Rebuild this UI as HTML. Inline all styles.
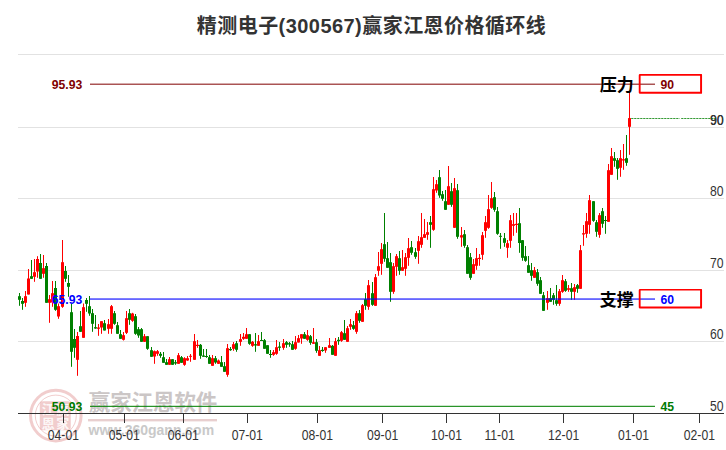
<!DOCTYPE html>
<html><head><meta charset="utf-8"><title>chart</title>
<style>
html,body{margin:0;padding:0;background:#fff;}
body{width:726px;height:450px;overflow:hidden;font-family:"Liberation Sans",sans-serif;}
svg{display:block;}
text{font-family:"Liberation Sans",sans-serif;}
</style></head><body>
<svg width="726" height="450" viewBox="0 0 726 450">
<rect x="0" y="0" width="726" height="450" fill="#ffffff"/>
<g shape-rendering="crispEdges" fill="#e2e2e2">
<rect x="18" y="54" width="706" height="1"/>
<rect x="18" y="127" width="706" height="1"/>
<rect x="18" y="198" width="706" height="1"/>
<rect x="18" y="270" width="706" height="1"/>
<rect x="18" y="341" width="706" height="1"/>
</g>
<g>
<circle cx="55.8" cy="415.6" r="25.3" fill="none" stroke="rgba(205,70,70,0.27)" stroke-width="3"/>
<circle cx="55.8" cy="415.6" r="20.5" fill="none" stroke="rgba(205,70,70,0.27)" stroke-width="1"/>
<rect x="39.8" y="401.2" width="31" height="29" rx="3" fill="rgba(205,70,70,0.27)"/>
<text x="41.8 56.2" y="414.3" font-size="13" font-weight="bold" fill="#ffffff" fill-opacity="0.85" style="font-family:'Liberation Sans','Noto Sans CJK SC',sans-serif;">江赢</text>
<text x="41.8 56.2" y="428" font-size="13" font-weight="bold" fill="#ffffff" fill-opacity="0.85" style="font-family:'Liberation Sans','Noto Sans CJK SC',sans-serif;">恩家</text>
<text x="88.8" y="410.3" font-size="21.5" font-weight="bold" fill="#cbc6c6" textLength="128.5" lengthAdjust="spacing" style="font-family:'Liberation Sans','Noto Sans CJK SC',sans-serif;">赢家江恩软件</text>
<rect x="88" y="419" width="129" height="2.4" fill="#e8cfcf"/>
<text x="88.6" y="434.5" font-size="14" font-weight="bold" fill="#c9c9c9">www.360gann.com</text>
</g>
<text x="371.3" y="33.3" font-size="20" font-weight="bold" fill="#333333" text-anchor="middle" textLength="349" lengthAdjust="spacing" style="font-family:'Liberation Sans','Noto Sans CJK SC',sans-serif;">精测电子(300567)赢家江恩价格循环线</text>
<g>
<rect x="19" y="293" width="1" height="12.8" fill="#008000"/><rect x="18" y="296.2" width="3" height="3.6" fill="#008000"/>
<rect x="22" y="298" width="1" height="11.8" fill="#008000"/><rect x="21" y="301" width="3" height="2.8" fill="#008000"/>
<rect x="25" y="291" width="1" height="15.8" fill="#ff0000"/><rect x="24" y="296.2" width="3" height="6.6" fill="#ff0000"/>
<rect x="28" y="269" width="1" height="25.5" fill="#ff0000"/><rect x="27" y="278.5" width="3" height="16" fill="#ff0000"/>
<rect x="31" y="260" width="1" height="18.8" fill="#008000"/><rect x="30" y="276.2" width="3" height="2.6" fill="#008000"/>
<rect x="34" y="259" width="1" height="22.8" fill="#ff0000"/><rect x="33" y="272.2" width="3" height="4.6" fill="#ff0000"/>
<rect x="37" y="256.2" width="1" height="21.6" fill="#ff0000"/><rect x="36" y="259" width="3" height="12.5" fill="#ff0000"/>
<rect x="40" y="254" width="1" height="24.8" fill="#008000"/><rect x="39" y="263" width="3" height="15.8" fill="#008000"/>
<rect x="43" y="255" width="1" height="22.8" fill="#ff0000"/><rect x="42" y="268.2" width="3" height="5.6" fill="#ff0000"/>
<rect x="46" y="263" width="1" height="39.8" fill="#008000"/><rect x="45" y="266" width="3" height="36.8" fill="#008000"/>
<rect x="49" y="295" width="1" height="27.8" fill="#ff0000"/><rect x="48" y="299.2" width="3" height="3.6" fill="#ff0000"/>
<rect x="52" y="281" width="1" height="25.8" fill="#ff0000"/><rect x="51" y="293.2" width="3" height="9.3" fill="#ff0000"/>
<rect x="55" y="281" width="1" height="29.8" fill="#008000"/><rect x="54" y="288" width="3" height="21.8" fill="#008000"/>
<rect x="58" y="303.5" width="1" height="15.3" fill="#ff0000"/><rect x="57" y="306.2" width="3" height="10.3" fill="#ff0000"/>
<rect x="62" y="240" width="1" height="67.8" fill="#ff0000"/><rect x="61" y="262.2" width="3" height="44.6" fill="#ff0000"/>
<rect x="65" y="266" width="1" height="15.8" fill="#008000"/><rect x="64" y="271" width="3" height="7.8" fill="#008000"/>
<rect x="68" y="275" width="1" height="21.8" fill="#008000"/><rect x="67" y="283" width="3" height="3.8" fill="#008000"/>
<rect x="71" y="303.5" width="1" height="63.3" fill="#008000"/><rect x="70" y="312.2" width="3" height="39.6" fill="#008000"/>
<rect x="74" y="329" width="1" height="28.8" fill="#008000"/><rect x="73" y="339" width="3" height="8.8" fill="#008000"/>
<rect x="77" y="332" width="1" height="43.8" fill="#ff0000"/><rect x="76" y="336" width="3" height="23.8" fill="#ff0000"/>
<rect x="80" y="311" width="1" height="20.8" fill="#008000"/><rect x="79" y="326.2" width="3" height="5.6" fill="#008000"/>
<rect x="83" y="303.5" width="1" height="34.3" fill="#ff0000"/><rect x="82" y="307.2" width="3" height="30.6" fill="#ff0000"/>
<rect x="86" y="298" width="1" height="13.8" fill="#008000"/><rect x="85" y="300" width="3" height="3.8" fill="#008000"/>
<rect x="89" y="296" width="1" height="19.8" fill="#008000"/><rect x="88" y="306.2" width="3" height="7.3" fill="#008000"/>
<rect x="92" y="309" width="1" height="22.8" fill="#008000"/><rect x="91" y="313.2" width="3" height="10.6" fill="#008000"/>
<rect x="95" y="315" width="1" height="13.8" fill="#008000"/><rect x="94" y="327.2" width="3" height="1.3" fill="#008000"/>
<rect x="98" y="324" width="1" height="11.8" fill="#ff0000"/><rect x="97" y="327.5" width="3" height="1.3" fill="#ff0000"/>
<rect x="101" y="321.2" width="1" height="12.6" fill="#ff0000"/><rect x="100" y="321.2" width="3" height="6.3" fill="#ff0000"/>
<rect x="104" y="320" width="1" height="10.5" fill="#008000"/><rect x="103" y="323.2" width="3" height="7.3" fill="#008000"/>
<rect x="108" y="319" width="1" height="14.8" fill="#ff0000"/><rect x="107" y="324.2" width="3" height="4.6" fill="#ff0000"/>
<rect x="111" y="305" width="1" height="28.8" fill="#ff0000"/><rect x="110" y="306.2" width="3" height="22.6" fill="#ff0000"/>
<rect x="114" y="311" width="1" height="13.8" fill="#008000"/><rect x="113" y="313.2" width="3" height="10.6" fill="#008000"/>
<rect x="117" y="322" width="1" height="11.8" fill="#008000"/><rect x="116" y="325.2" width="3" height="8.6" fill="#008000"/>
<rect x="120" y="330" width="1" height="8.8" fill="#008000"/><rect x="119" y="334.2" width="3" height="4.6" fill="#008000"/>
<rect x="123" y="332" width="1" height="8.5" fill="#ff0000"/><rect x="122" y="335.2" width="3" height="4.6" fill="#ff0000"/>
<rect x="126" y="311" width="1" height="23" fill="#ff0000"/><rect x="125" y="318.2" width="3" height="14.6" fill="#ff0000"/>
<rect x="129" y="309" width="1" height="15.8" fill="#008000"/><rect x="128" y="313.2" width="3" height="6.6" fill="#008000"/>
<rect x="132" y="312.8" width="1" height="9" fill="#ff0000"/><rect x="131" y="313.5" width="3" height="7.3" fill="#ff0000"/>
<rect x="135" y="314" width="1" height="20.8" fill="#008000"/><rect x="134" y="316.2" width="3" height="17.6" fill="#008000"/>
<rect x="138" y="327" width="1" height="10.8" fill="#008000"/><rect x="137" y="329.2" width="3" height="6.3" fill="#008000"/>
<rect x="141" y="328" width="1" height="13.8" fill="#008000"/><rect x="140" y="329.2" width="3" height="12.6" fill="#008000"/>
<rect x="144" y="334" width="1" height="7.8" fill="#ff0000"/><rect x="143" y="336.2" width="3" height="5.6" fill="#ff0000"/>
<rect x="147" y="336.2" width="1" height="13.6" fill="#008000"/><rect x="146" y="336.2" width="3" height="12.6" fill="#008000"/>
<rect x="151" y="347" width="1" height="9.8" fill="#008000"/><rect x="150" y="350.2" width="3" height="6.6" fill="#008000"/>
<rect x="154" y="350.5" width="1" height="13.3" fill="#ff0000"/><rect x="153" y="351.2" width="3" height="5.3" fill="#ff0000"/>
<rect x="157" y="350" width="1" height="5.8" fill="#ff0000"/><rect x="156" y="351.2" width="3" height="2.6" fill="#ff0000"/>
<rect x="160" y="352" width="1" height="5.8" fill="#008000"/><rect x="159" y="353.8" width="3" height="2" fill="#008000"/>
<rect x="163" y="352" width="1" height="10.8" fill="#008000"/><rect x="162" y="357.2" width="3" height="5.6" fill="#008000"/>
<rect x="166" y="359" width="1" height="5.8" fill="#008000"/><rect x="165" y="362.2" width="3" height="2.6" fill="#008000"/>
<rect x="169" y="357" width="1" height="7.8" fill="#ff0000"/><rect x="168" y="359.2" width="3" height="5.6" fill="#ff0000"/>
<rect x="172" y="359" width="1" height="5.8" fill="#008000"/><rect x="171" y="359.2" width="3" height="5.6" fill="#008000"/>
<rect x="175" y="360" width="1" height="4.8" fill="#008000"/><rect x="174" y="362.2" width="3" height="1.3" fill="#008000"/>
<rect x="178" y="353" width="1" height="10.8" fill="#ff0000"/><rect x="177" y="355.2" width="3" height="8.6" fill="#ff0000"/>
<rect x="181" y="356" width="1" height="6.8" fill="#008000"/><rect x="180" y="357.2" width="3" height="5.6" fill="#008000"/>
<rect x="184" y="357.2" width="1" height="8.6" fill="#ff0000"/><rect x="183" y="358.2" width="3" height="6.6" fill="#ff0000"/>
<rect x="187" y="356" width="1" height="4.8" fill="#ff0000"/><rect x="186" y="358.2" width="3" height="2.3" fill="#ff0000"/>
<rect x="190" y="354" width="1" height="7.8" fill="#ff0000"/><rect x="189" y="355.8" width="3" height="1" fill="#ff0000"/>
<rect x="194" y="334" width="1" height="25.8" fill="#ff0000"/><rect x="193" y="341.2" width="3" height="18.6" fill="#ff0000"/>
<rect x="197" y="340" width="1" height="7.8" fill="#ff0000"/><rect x="196" y="344.8" width="3" height="1.2" fill="#ff0000"/>
<rect x="200" y="344" width="1" height="14.8" fill="#008000"/><rect x="199" y="344.8" width="3" height="11" fill="#008000"/>
<rect x="203" y="349" width="1" height="7.8" fill="#008000"/><rect x="202" y="355.5" width="3" height="1.3" fill="#008000"/>
<rect x="206" y="349" width="1" height="8.8" fill="#008000"/><rect x="205" y="356" width="3" height="1" fill="#008000"/>
<rect x="209" y="355" width="1" height="8.8" fill="#008000"/><rect x="208" y="357.2" width="3" height="6.6" fill="#008000"/>
<rect x="212" y="355" width="1" height="10.8" fill="#ff0000"/><rect x="211" y="358.2" width="3" height="7.6" fill="#ff0000"/>
<rect x="215" y="356" width="1" height="7.8" fill="#008000"/><rect x="214" y="358.2" width="3" height="4.3" fill="#008000"/>
<rect x="218" y="359.5" width="1" height="4.5" fill="#ff0000"/><rect x="217" y="360.5" width="3" height="3.3" fill="#ff0000"/>
<rect x="221" y="356" width="1" height="10.8" fill="#008000"/><rect x="220" y="362.2" width="3" height="4.6" fill="#008000"/>
<rect x="224" y="362" width="1" height="9.8" fill="#008000"/><rect x="223" y="366.2" width="3" height="5.6" fill="#008000"/>
<rect x="227" y="344" width="1" height="32.8" fill="#ff0000"/><rect x="226" y="348.2" width="3" height="26.6" fill="#ff0000"/>
<rect x="230" y="347" width="1" height="3.8" fill="#008000"/><rect x="229" y="349" width="3" height="1.2" fill="#008000"/>
<rect x="233" y="342" width="1" height="8.8" fill="#ff0000"/><rect x="232" y="344.2" width="3" height="4.6" fill="#ff0000"/>
<rect x="236" y="341" width="1" height="10.8" fill="#008000"/><rect x="235" y="343.2" width="3" height="6.6" fill="#008000"/>
<rect x="240" y="334" width="1" height="11.8" fill="#ff0000"/><rect x="239" y="339.2" width="3" height="2.6" fill="#ff0000"/>
<rect x="243" y="333" width="1" height="6.8" fill="#ff0000"/><rect x="242" y="336.8" width="3" height="2" fill="#ff0000"/>
<rect x="246" y="328" width="1" height="10.8" fill="#ff0000"/><rect x="245" y="334.2" width="3" height="4.6" fill="#ff0000"/>
<rect x="249" y="334.2" width="1" height="10.6" fill="#008000"/><rect x="248" y="334.2" width="3" height="9.6" fill="#008000"/>
<rect x="252" y="341" width="1" height="5.8" fill="#ff0000"/><rect x="251" y="341.8" width="3" height="4" fill="#ff0000"/>
<rect x="255" y="333" width="1" height="18.8" fill="#008000"/><rect x="254" y="344.2" width="3" height="1.3" fill="#008000"/>
<rect x="258" y="335" width="1" height="10.8" fill="#ff0000"/><rect x="257" y="341.2" width="3" height="4.6" fill="#ff0000"/>
<rect x="261" y="332" width="1" height="9" fill="#008000"/><rect x="260" y="340" width="3" height="1" fill="#008000"/>
<rect x="264" y="339" width="1" height="9.8" fill="#008000"/><rect x="263" y="340.2" width="3" height="8.6" fill="#008000"/>
<rect x="267" y="345.2" width="1" height="8.6" fill="#008000"/><rect x="266" y="345.2" width="3" height="8.6" fill="#008000"/>
<rect x="270" y="350" width="1" height="7.8" fill="#008000"/><rect x="269" y="354" width="3" height="1" fill="#008000"/>
<rect x="273" y="350" width="1" height="5.8" fill="#ff0000"/><rect x="272" y="352.2" width="3" height="2.6" fill="#ff0000"/>
<rect x="276" y="340" width="1" height="14.8" fill="#ff0000"/><rect x="275" y="347.2" width="3" height="6.6" fill="#ff0000"/>
<rect x="279" y="342" width="1" height="8.8" fill="#008000"/><rect x="278" y="346.5" width="3" height="1.3" fill="#008000"/>
<rect x="283" y="339" width="1" height="10.8" fill="#ff0000"/><rect x="282" y="343.2" width="3" height="4.6" fill="#ff0000"/>
<rect x="286" y="341" width="1" height="6.8" fill="#008000"/><rect x="285" y="342.2" width="3" height="2.6" fill="#008000"/>
<rect x="289" y="342" width="1" height="4.8" fill="#008000"/><rect x="288" y="343.2" width="3" height="1.3" fill="#008000"/>
<rect x="292" y="341" width="1" height="8.8" fill="#008000"/><rect x="291" y="344.2" width="3" height="5.6" fill="#008000"/>
<rect x="295" y="336" width="1" height="13.8" fill="#ff0000"/><rect x="294" y="342.2" width="3" height="6.6" fill="#ff0000"/>
<rect x="298" y="335" width="1" height="7.5" fill="#ff0000"/><rect x="297" y="338.2" width="3" height="4.3" fill="#ff0000"/>
<rect x="301" y="334.2" width="1" height="9.6" fill="#ff0000"/><rect x="300" y="334.2" width="3" height="4.3" fill="#ff0000"/>
<rect x="304" y="332" width="1" height="6.8" fill="#008000"/><rect x="303" y="334.2" width="3" height="4.6" fill="#008000"/>
<rect x="307" y="330" width="1" height="10.8" fill="#ff0000"/><rect x="306" y="335.2" width="3" height="4.6" fill="#ff0000"/>
<rect x="310" y="335" width="1" height="9.8" fill="#008000"/><rect x="309" y="336.2" width="3" height="6.6" fill="#008000"/>
<rect x="313" y="328" width="1" height="15.8" fill="#ff0000"/><rect x="312" y="342.2" width="3" height="1.6" fill="#ff0000"/>
<rect x="316" y="339" width="1" height="13.8" fill="#008000"/><rect x="315" y="342.2" width="3" height="8.6" fill="#008000"/>
<rect x="319" y="346" width="1" height="9.8" fill="#ff0000"/><rect x="318" y="350.2" width="3" height="5.6" fill="#ff0000"/>
<rect x="322" y="347" width="1" height="4.8" fill="#008000"/><rect x="321" y="349.8" width="3" height="1.2" fill="#008000"/>
<rect x="325" y="347.2" width="1" height="5.6" fill="#ff0000"/><rect x="324" y="347.2" width="3" height="3.3" fill="#ff0000"/>
<rect x="329" y="338" width="1" height="9.8" fill="#ff0000"/><rect x="328" y="345.2" width="3" height="2.6" fill="#ff0000"/>
<rect x="332" y="345" width="1" height="9.8" fill="#008000"/><rect x="331" y="345.8" width="3" height="9" fill="#008000"/>
<rect x="335" y="338" width="1" height="17.8" fill="#ff0000"/><rect x="334" y="341.2" width="3" height="14.6" fill="#ff0000"/>
<rect x="338" y="337" width="1" height="7.8" fill="#008000"/><rect x="337" y="339.8" width="3" height="1.4" fill="#008000"/>
<rect x="341" y="331" width="1" height="10.8" fill="#ff0000"/><rect x="340" y="332.2" width="3" height="8.6" fill="#ff0000"/>
<rect x="344" y="320" width="1" height="19.8" fill="#008000"/><rect x="343" y="333.2" width="3" height="6.6" fill="#008000"/>
<rect x="347" y="326" width="1" height="15.8" fill="#ff0000"/><rect x="346" y="328.2" width="3" height="13.6" fill="#ff0000"/>
<rect x="350" y="319" width="1" height="10.8" fill="#ff0000"/><rect x="349" y="324.2" width="3" height="2.6" fill="#ff0000"/>
<rect x="353" y="321" width="1" height="8.8" fill="#008000"/><rect x="352" y="325.2" width="3" height="3.6" fill="#008000"/>
<rect x="356" y="311" width="1" height="22.8" fill="#ff0000"/><rect x="355" y="313.2" width="3" height="18.6" fill="#ff0000"/>
<rect x="359" y="310" width="1" height="12.8" fill="#008000"/><rect x="358" y="313.2" width="3" height="7.6" fill="#008000"/>
<rect x="362" y="304" width="1" height="17.8" fill="#ff0000"/><rect x="361" y="305.2" width="3" height="16.6" fill="#ff0000"/>
<rect x="365" y="293" width="1" height="16.8" fill="#008000"/><rect x="364" y="299.2" width="3" height="6.6" fill="#008000"/>
<rect x="368" y="280" width="1" height="29.8" fill="#ff0000"/><rect x="367" y="285.2" width="3" height="21.6" fill="#ff0000"/>
<rect x="372" y="282" width="1" height="23.8" fill="#008000"/><rect x="371" y="293.2" width="3" height="11.6" fill="#008000"/>
<rect x="375" y="274" width="1" height="31.8" fill="#ff0000"/><rect x="374" y="277.2" width="3" height="28.6" fill="#ff0000"/>
<rect x="378" y="252" width="1" height="23.8" fill="#ff0000"/><rect x="377" y="266.2" width="3" height="4.6" fill="#ff0000"/>
<rect x="381" y="243" width="1" height="31.8" fill="#ff0000"/><rect x="380" y="249.2" width="3" height="14.6" fill="#ff0000"/>
<rect x="384" y="213" width="1" height="48.8" fill="#008000"/><rect x="383" y="244.2" width="3" height="14.6" fill="#008000"/>
<rect x="387" y="242" width="1" height="25.8" fill="#008000"/><rect x="386" y="258.2" width="3" height="9.6" fill="#008000"/>
<rect x="390" y="253" width="1" height="48.8" fill="#008000"/><rect x="389" y="262.2" width="3" height="29.6" fill="#008000"/>
<rect x="393" y="263" width="1" height="30.8" fill="#ff0000"/><rect x="392" y="266.2" width="3" height="25.6" fill="#ff0000"/>
<rect x="396" y="254" width="1" height="21.8" fill="#ff0000"/><rect x="395" y="256.2" width="3" height="10.6" fill="#ff0000"/>
<rect x="399" y="251" width="1" height="23.8" fill="#008000"/><rect x="398" y="258.2" width="3" height="12.6" fill="#008000"/>
<rect x="402" y="250" width="1" height="20.8" fill="#ff0000"/><rect x="401" y="267.2" width="3" height="3.6" fill="#ff0000"/>
<rect x="405" y="253" width="1" height="22.8" fill="#ff0000"/><rect x="404" y="257.2" width="3" height="11.6" fill="#ff0000"/>
<rect x="408" y="238" width="1" height="27.8" fill="#ff0000"/><rect x="407" y="248.2" width="3" height="9.6" fill="#ff0000"/>
<rect x="411" y="241" width="1" height="13.8" fill="#008000"/><rect x="410" y="247.2" width="3" height="5.6" fill="#008000"/>
<rect x="415" y="248" width="1" height="10.8" fill="#008000"/><rect x="414" y="252.2" width="3" height="4.6" fill="#008000"/>
<rect x="418" y="236" width="1" height="27.8" fill="#ff0000"/><rect x="417" y="241.2" width="3" height="9.6" fill="#ff0000"/>
<rect x="421" y="213" width="1" height="34.8" fill="#ff0000"/><rect x="420" y="237.2" width="3" height="7.6" fill="#ff0000"/>
<rect x="424" y="219" width="1" height="18.8" fill="#ff0000"/><rect x="423" y="234.2" width="3" height="3.6" fill="#ff0000"/>
<rect x="427" y="222" width="1" height="17.8" fill="#ff0000"/><rect x="426" y="232.2" width="3" height="2.6" fill="#ff0000"/>
<rect x="430" y="216" width="1" height="31.8" fill="#008000"/><rect x="429" y="222.2" width="3" height="2.6" fill="#008000"/>
<rect x="433" y="177" width="1" height="53.8" fill="#ff0000"/><rect x="432" y="189.2" width="3" height="40.6" fill="#ff0000"/>
<rect x="436" y="180" width="1" height="12.8" fill="#ff0000"/><rect x="435" y="184.2" width="3" height="6.3" fill="#ff0000"/>
<rect x="439" y="170" width="1" height="27.8" fill="#008000"/><rect x="438" y="177.2" width="3" height="18.3" fill="#008000"/>
<rect x="442" y="191" width="1" height="9.8" fill="#008000"/><rect x="441" y="194.2" width="3" height="4.6" fill="#008000"/>
<rect x="445" y="190" width="1" height="19.8" fill="#008000"/><rect x="444" y="201.2" width="3" height="8.6" fill="#008000"/>
<rect x="448" y="166" width="1" height="38.8" fill="#ff0000"/><rect x="447" y="186.2" width="3" height="18.6" fill="#ff0000"/>
<rect x="451" y="183" width="1" height="23.8" fill="#008000"/><rect x="450" y="191.2" width="3" height="13.6" fill="#008000"/>
<rect x="454" y="178" width="1" height="49.8" fill="#ff0000"/><rect x="453" y="188.2" width="3" height="39.6" fill="#ff0000"/>
<rect x="457" y="184" width="1" height="54.8" fill="#008000"/><rect x="456" y="190.2" width="3" height="46.6" fill="#008000"/>
<rect x="461" y="227" width="1" height="19.8" fill="#ff0000"/><rect x="460" y="235.2" width="3" height="2.3" fill="#ff0000"/>
<rect x="464" y="230" width="1" height="17.8" fill="#008000"/><rect x="463" y="234.2" width="3" height="11.6" fill="#008000"/>
<rect x="467" y="245" width="1" height="28.8" fill="#008000"/><rect x="466" y="247.2" width="3" height="26.6" fill="#008000"/>
<rect x="470" y="253" width="1" height="26.8" fill="#008000"/><rect x="469" y="257.2" width="3" height="20.6" fill="#008000"/>
<rect x="473" y="259" width="1" height="14.8" fill="#ff0000"/><rect x="472" y="264.2" width="3" height="9.6" fill="#ff0000"/>
<rect x="476" y="248" width="1" height="21.8" fill="#ff0000"/><rect x="475" y="258.2" width="3" height="7.6" fill="#ff0000"/>
<rect x="479" y="254" width="1" height="11.8" fill="#ff0000"/><rect x="478" y="257.8" width="3" height="1.2" fill="#ff0000"/>
<rect x="482" y="232" width="1" height="27.8" fill="#ff0000"/><rect x="481" y="235.2" width="3" height="19.6" fill="#ff0000"/>
<rect x="485" y="216" width="1" height="21.8" fill="#ff0000"/><rect x="484" y="222.2" width="3" height="8.6" fill="#ff0000"/>
<rect x="488" y="195" width="1" height="33.8" fill="#ff0000"/><rect x="487" y="209.2" width="3" height="18.6" fill="#ff0000"/>
<rect x="491" y="182" width="1" height="26.8" fill="#ff0000"/><rect x="490" y="198.2" width="3" height="9.6" fill="#ff0000"/>
<rect x="494" y="192" width="1" height="19.8" fill="#008000"/><rect x="493" y="197.2" width="3" height="12.6" fill="#008000"/>
<rect x="497" y="207" width="1" height="27.8" fill="#008000"/><rect x="496" y="211.2" width="3" height="22.6" fill="#008000"/>
<rect x="500" y="233" width="1" height="15.8" fill="#008000"/><rect x="499" y="235.8" width="3" height="1" fill="#008000"/>
<rect x="504" y="233" width="1" height="13.8" fill="#008000"/><rect x="503" y="238.2" width="3" height="4.6" fill="#008000"/>
<rect x="507" y="240" width="1" height="17.8" fill="#ff0000"/><rect x="506" y="243.2" width="3" height="4.6" fill="#ff0000"/>
<rect x="510" y="215" width="1" height="32.8" fill="#ff0000"/><rect x="509" y="220.2" width="3" height="20.6" fill="#ff0000"/>
<rect x="513" y="213" width="1" height="22.8" fill="#ff0000"/><rect x="512" y="224.2" width="3" height="1.6" fill="#ff0000"/>
<rect x="516" y="213" width="1" height="19.8" fill="#ff0000"/><rect x="515" y="223.8" width="3" height="1.2" fill="#ff0000"/>
<rect x="519" y="208" width="1" height="44.8" fill="#008000"/><rect x="518" y="223.2" width="3" height="19.8" fill="#008000"/>
<rect x="522" y="240" width="1" height="20.8" fill="#008000"/><rect x="521" y="240.2" width="3" height="17.6" fill="#008000"/>
<rect x="525" y="246" width="1" height="15.8" fill="#008000"/><rect x="524" y="256.2" width="3" height="4.6" fill="#008000"/>
<rect x="528" y="256" width="1" height="16.8" fill="#008000"/><rect x="527" y="265.2" width="3" height="7.6" fill="#008000"/>
<rect x="531" y="263" width="1" height="17.8" fill="#008000"/><rect x="530" y="270.2" width="3" height="5.6" fill="#008000"/>
<rect x="534" y="267" width="1" height="10.8" fill="#ff0000"/><rect x="533" y="270.2" width="3" height="7.6" fill="#ff0000"/>
<rect x="537" y="269" width="1" height="16.8" fill="#008000"/><rect x="536" y="272.2" width="3" height="11.6" fill="#008000"/>
<rect x="540" y="277" width="1" height="16.8" fill="#008000"/><rect x="539" y="280.2" width="3" height="13.6" fill="#008000"/>
<rect x="543" y="292" width="1" height="18.8" fill="#008000"/><rect x="542" y="295.2" width="3" height="15.6" fill="#008000"/>
<rect x="547" y="291" width="1" height="18.8" fill="#ff0000"/><rect x="546" y="298.2" width="3" height="4.6" fill="#ff0000"/>
<rect x="550" y="288" width="1" height="13.8" fill="#008000"/><rect x="549" y="298.2" width="3" height="3.6" fill="#008000"/>
<rect x="553" y="293" width="1" height="11.8" fill="#008000"/><rect x="552" y="295.2" width="3" height="4.6" fill="#008000"/>
<rect x="556" y="285" width="1" height="20.8" fill="#008000"/><rect x="555" y="300.2" width="3" height="3.6" fill="#008000"/>
<rect x="559" y="289" width="1" height="16.8" fill="#ff0000"/><rect x="558" y="291.2" width="3" height="12.6" fill="#ff0000"/>
<rect x="562" y="275" width="1" height="17.8" fill="#ff0000"/><rect x="561" y="280.2" width="3" height="11.6" fill="#ff0000"/>
<rect x="565" y="279" width="1" height="12.8" fill="#008000"/><rect x="564" y="281.2" width="3" height="9.6" fill="#008000"/>
<rect x="568" y="285" width="1" height="6.8" fill="#ff0000"/><rect x="567" y="288.2" width="3" height="1.6" fill="#ff0000"/>
<rect x="571" y="283" width="1" height="16.8" fill="#008000"/><rect x="570" y="288.2" width="3" height="3.6" fill="#008000"/>
<rect x="574" y="284" width="1" height="15.8" fill="#ff0000"/><rect x="573" y="287.2" width="3" height="4.6" fill="#ff0000"/>
<rect x="577" y="284" width="1" height="8.8" fill="#008000"/><rect x="576" y="285.2" width="3" height="3.6" fill="#008000"/>
<rect x="580" y="245" width="1" height="43.8" fill="#ff0000"/><rect x="579" y="250.2" width="3" height="38.6" fill="#ff0000"/>
<rect x="583" y="225" width="1" height="20.8" fill="#ff0000"/><rect x="582" y="233.2" width="3" height="1.3" fill="#ff0000"/>
<rect x="586" y="213" width="1" height="24.8" fill="#ff0000"/><rect x="585" y="221.2" width="3" height="12.6" fill="#ff0000"/>
<rect x="589" y="195" width="1" height="38.8" fill="#ff0000"/><rect x="588" y="200.2" width="3" height="24.6" fill="#ff0000"/>
<rect x="593" y="201.2" width="1" height="20.6" fill="#008000"/><rect x="592" y="201.2" width="3" height="19.6" fill="#008000"/>
<rect x="596" y="220" width="1" height="16.8" fill="#008000"/><rect x="595" y="222.2" width="3" height="9.6" fill="#008000"/>
<rect x="599" y="213" width="1" height="24.8" fill="#ff0000"/><rect x="598" y="215.2" width="3" height="19.6" fill="#ff0000"/>
<rect x="602" y="208" width="1" height="19.8" fill="#008000"/><rect x="601" y="211.2" width="3" height="12.6" fill="#008000"/>
<rect x="605" y="216" width="1" height="17.8" fill="#008000"/><rect x="604" y="220" width="3" height="1" fill="#008000"/>
<rect x="608" y="164" width="1" height="57.8" fill="#ff0000"/><rect x="607" y="170.2" width="3" height="51.6" fill="#ff0000"/>
<rect x="611" y="148" width="1" height="26.8" fill="#ff0000"/><rect x="610" y="156.2" width="3" height="18.6" fill="#ff0000"/>
<rect x="614" y="152" width="1" height="14.8" fill="#008000"/><rect x="613" y="158.2" width="3" height="2.6" fill="#008000"/>
<rect x="617" y="158" width="1" height="21.8" fill="#008000"/><rect x="616" y="160.2" width="3" height="8.6" fill="#008000"/>
<rect x="620" y="150" width="1" height="26.8" fill="#ff0000"/><rect x="619" y="158.2" width="3" height="9.6" fill="#ff0000"/>
<rect x="623" y="144" width="1" height="25.8" fill="#ff0000"/><rect x="622" y="159.2" width="3" height="1.3" fill="#ff0000"/>
<rect x="626" y="135" width="1" height="30.8" fill="#008000"/><rect x="625" y="158.2" width="3" height="4.6" fill="#008000"/>
<rect x="629" y="91" width="1" height="63.8" fill="#ff0000"/><rect x="628" y="118.1" width="3" height="8.7" fill="#ff0000"/>
</g>
<g shape-rendering="crispEdges" fill="#333333">
<rect x="18" y="413" width="706" height="1"/>
<rect x="63" y="413" width="1" height="10"/>
<rect x="124" y="413" width="1" height="10"/>
<rect x="183" y="413" width="1" height="10"/>
<rect x="247" y="413" width="1" height="10"/>
<rect x="317" y="413" width="1" height="10"/>
<rect x="382" y="413" width="1" height="10"/>
<rect x="446" y="413" width="1" height="10"/>
<rect x="499" y="413" width="1" height="10"/>
<rect x="563" y="413" width="1" height="10"/>
<rect x="633" y="413" width="1" height="10"/>
<rect x="699" y="413" width="1" height="10"/>
</g>
<g font-size="12.2" fill="#333333" text-anchor="middle">
<text transform="translate(63.4,439.8) scale(1,1.15)">04-01</text>
<text transform="translate(124.2,439.8) scale(1,1.15)">05-01</text>
<text transform="translate(183.3,439.8) scale(1,1.15)">06-01</text>
<text transform="translate(247.2,439.8) scale(1,1.15)">07-01</text>
<text transform="translate(317.4,439.8) scale(1,1.15)">08-01</text>
<text transform="translate(382.6,439.8) scale(1,1.15)">09-01</text>
<text transform="translate(446.5,439.8) scale(1,1.15)">10-01</text>
<text transform="translate(499.6,439.8) scale(1,1.15)">11-01</text>
<text transform="translate(563.6,439.8) scale(1,1.15)">12-01</text>
<text transform="translate(633.5,439.8) scale(1,1.15)">01-01</text>
<text transform="translate(699.4,439.8) scale(1,1.15)">02-01</text>
</g>
<g font-size="12.2" fill="#333333" text-anchor="start">
<text transform="translate(709.9,124.7) scale(1,1.15)">90</text>
<text transform="translate(709.9,195.7) scale(1,1.15)">80</text>
<text transform="translate(709.9,267.7) scale(1,1.15)">70</text>
<text transform="translate(709.9,338.7) scale(1,1.15)">60</text>
<text transform="translate(709.9,410.7) scale(1,1.15)">50</text>
</g>
<rect x="90" y="83" width="565" height="1" fill="rgba(128,0,0,0.33)" shape-rendering="crispEdges"/><rect x="90" y="84" width="565" height="1" fill="rgba(128,0,0,0.67)" shape-rendering="crispEdges"/>
<rect x="90" y="298" width="565" height="1" fill="rgba(0,0,255,0.50)" shape-rendering="crispEdges"/><rect x="90" y="299" width="565" height="1" fill="rgba(0,0,255,0.60)" shape-rendering="crispEdges"/>
<rect x="90" y="405" width="565" height="1" fill="rgba(0,128,0,0.20)" shape-rendering="crispEdges"/><rect x="90" y="406" width="565" height="1" fill="rgba(0,128,0,0.84)" shape-rendering="crispEdges"/>
<text x="599.8" y="91" font-size="17" font-weight="bold" fill="#000000" style="font-family:'Liberation Sans','Noto Sans CJK SC',sans-serif;">压力</text>
<text x="599.8" y="305.8" font-size="17" font-weight="bold" fill="#000000" style="font-family:'Liberation Sans','Noto Sans CJK SC',sans-serif;">支撑</text>
<text x="51.8" y="88.7" font-size="12.2" font-weight="bold" fill="#800000">95.93</text>
<text x="51.8" y="303.8" font-size="12.2" font-weight="bold" fill="#0000ff">65.93</text>
<text x="51.8" y="410.9" font-size="12.2" font-weight="bold" fill="#007a00">50.93</text>
<text x="660.6" y="88.7" font-size="12.2" font-weight="bold" fill="#800000">90</text>
<text x="660.6" y="303.5" font-size="12.2" font-weight="bold" fill="#0000ff">60</text>
<text x="660.4" y="410.9" font-size="12.2" font-weight="bold" fill="#007a00">45</text>
<path fill="#ff0000" fill-rule="evenodd" d="M640.05,74.05H701.65Q702.05,74.05 702.05,74.45V93.35Q702.05,93.75 701.65,93.75H640.05Q638.75,93.75 638.75,92.45V75.35Q638.75,74.05 640.05,74.05ZM640.6,75.8V91.7H700.1V75.8Z"/>
<path fill="#ff0000" fill-rule="evenodd" d="M640.05,289.0H701.65Q702.05,289.0 702.05,289.4V308.20000000000005Q702.05,308.6 701.65,308.6H640.05Q638.75,308.6 638.75,307.3V290.3Q638.75,289.0 640.05,289.0ZM640.6,290.55V306.4H700.1V290.55Z"/>
<line x1="631.2" y1="118.5" x2="679.6" y2="118.5" stroke="#008000" stroke-width="0.8" stroke-dasharray="2.25 0.75"/>
<line x1="681.2" y1="118.5" x2="716" y2="118.5" stroke="#008000" stroke-width="0.8" stroke-dasharray="2.25 0.75"/>
<text transform="translate(710.3,124.9) scale(1,1.15)" font-size="12.2" fill="#333333">90</text>
</svg>
</body></html>
